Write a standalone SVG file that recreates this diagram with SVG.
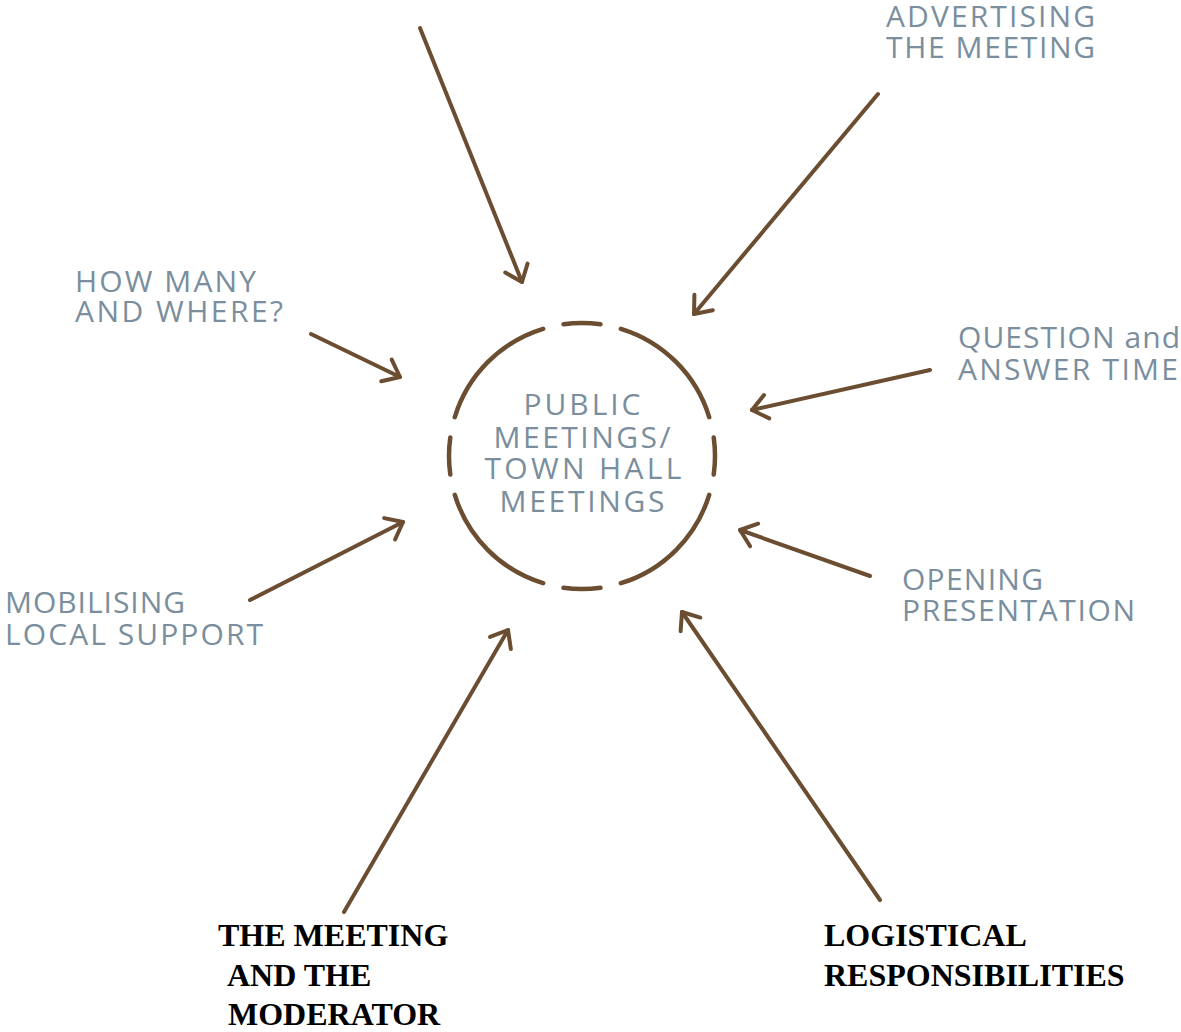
<svg xmlns="http://www.w3.org/2000/svg" width="1181" height="1032" viewBox="0 0 1181 1032">
  <style>
    .conn { fill: none; stroke: #6B4D31; stroke-width: 4; stroke-linecap: round; marker-end: url(#head); }
    .lbl { font-family: "Open Sans", "Noto Sans", sans-serif; font-size: 30px; fill: #7A8E9D; }
    .ctr { text-anchor: middle; }
    .bold { font-family: "Liberation Serif", "Times New Roman", serif; font-size: 32px; font-weight: bold; fill: #000; }
  </style>
  <defs>
    <marker id="head" markerUnits="userSpaceOnUse" markerWidth="40" markerHeight="40" viewBox="-20 -20 40 40" refX="0" refY="0" orient="auto" overflow="visible">
      <path d="M-15,-12 L0,0 L-15,12" fill="none" stroke="#6B4D31" stroke-width="4" stroke-linecap="round" stroke-linejoin="round"/>
    </marker>
  </defs>
  <rect width="1181" height="1032" fill="#fff"/>

  <!-- central hub: dashed ring with title -->
  <g id="hub">
    <circle cx="582" cy="456" r="133" pathLength="360" fill="none" stroke="#6B4D31" stroke-width="4.5" stroke-linecap="round" stroke-dasharray="16 9 56 9" stroke-dashoffset="8"/>
    <text class="lbl ctr" x="582" y="415" textLength="117" lengthAdjust="spacing">PUBLIC</text>
    <text class="lbl ctr" x="582" y="448" textLength="177" lengthAdjust="spacing">MEETINGS/</text>
    <text class="lbl ctr" x="583" y="479" textLength="197" lengthAdjust="spacing">TOWN HALL</text>
    <text class="lbl ctr" x="582" y="512" textLength="165" lengthAdjust="spacing">MEETINGS</text>
  </g>

  <g id="advertising">
    <text class="lbl" x="886" y="27" textLength="209" lengthAdjust="spacing">ADVERTISING</text>
    <text class="lbl" x="886" y="58" textLength="209" lengthAdjust="spacing">THE MEETING</text>
  </g>
  <g id="how-many">
    <text class="lbl" x="75" y="292" textLength="181" lengthAdjust="spacing">HOW MANY</text>
    <text class="lbl" x="75" y="322" textLength="208" lengthAdjust="spacing">AND WHERE?</text>
  </g>
  <g id="question">
    <text class="lbl" x="958" y="348" textLength="222" lengthAdjust="spacing">QUESTION and</text>
    <text class="lbl" x="958" y="380" textLength="220" lengthAdjust="spacing">ANSWER TIME</text>
  </g>
  <g id="opening">
    <text class="lbl" x="902" y="590" textLength="141" lengthAdjust="spacing">OPENING</text>
    <text class="lbl" x="902" y="621" textLength="233" lengthAdjust="spacing">PRESENTATION</text>
  </g>
  <g id="mobilising">
    <text class="lbl" x="5" y="613" textLength="180" lengthAdjust="spacing">MOBILISING</text>
    <text class="lbl" x="5" y="645" textLength="258" lengthAdjust="spacing">LOCAL SUPPORT</text>
  </g>
  <g id="moderator">
    <text class="bold" x="218" y="946">THE MEETING</text>
    <text class="bold" x="227" y="986">AND THE</text>
    <text class="bold" x="228" y="1025">MODERATOR</text>
  </g>
  <g id="logistics">
    <text class="bold" x="824" y="946">LOGISTICAL</text>
    <text class="bold" x="824" y="986">RESPONSIBILITIES</text>
  </g>

  <!-- spokes pointing into the hub -->
  <g id="connectors">
    <line class="conn" x1="420" y1="28" x2="522" y2="282"/>
    <line class="conn" x1="878" y1="94" x2="694" y2="314"/>
    <line class="conn" x1="311" y1="334" x2="400" y2="377"/>
    <line class="conn" x1="930" y1="370" x2="752" y2="410"/>
    <line class="conn" x1="250" y1="600" x2="403" y2="522"/>
    <line class="conn" x1="870" y1="576" x2="740" y2="530"/>
    <line class="conn" x1="344" y1="912" x2="508" y2="630"/>
    <line class="conn" x1="880" y1="900" x2="682" y2="612"/>
  </g>
</svg>
